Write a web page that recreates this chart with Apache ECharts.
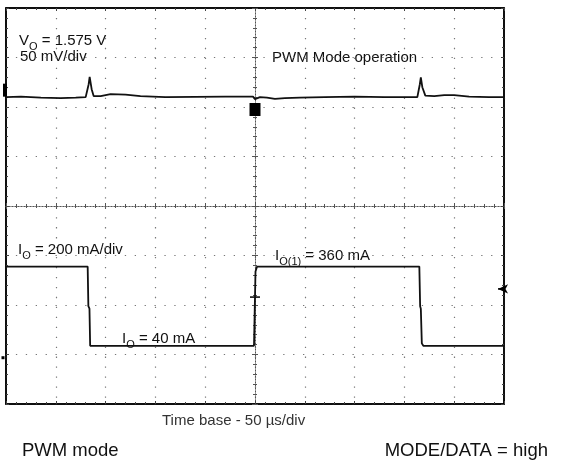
<!DOCTYPE html>
<html>
<head>
<meta charset="utf-8">
<script src="https://cdn.jsdelivr.net/npm/echarts@6/dist/echarts.min.js"></script>
<style>
html,body{margin:0;padding:0;background:#fff;}
#c{width:568px;height:467px;}
</style>
</head>
<body>
<div id="c"></div>
<script>
// Time relative to the trigger (µs), 50 µs/div, 10 divisions
var timeMin = -250, timeMax = 250, timeStep = 50;
// Voltage trace V_O (mV), 50 mV/div
var vTime = [-250,-235,-215,-195,-180,-170,-168,-167,-166,-164,-162,-155,-145,-130,-115,-90,-60,-30,-10,-2,0,5,12,20,30,45,70,100,130,150,163,165.5,166.5,168,171,180,190,200,215,235,250];
var vMilliVolt = [1575,1575.5,1574.5,1574,1574.5,1575,1575,1588,1595.5,1583,1576,1576,1578,1577.5,1576,1575,1575.2,1575.5,1575.5,1575.5,1573,1575,1574.5,1573.3,1574,1574.5,1575,1575.5,1575,1575,1575,1588,1595,1585,1576.5,1576,1577,1577,1575.5,1575,1575];
// Load current I_O (mA), 200 mA/div
var iTime = [-250,-168,-167.3,-166.2,-165.5,-120,-60,-1,0,0.5,2,60,120,165,165.8,166.5,167.5,169,210,250];
var iMilliAmp = [360,360,200,190,40,40,40,40,40,340,360,360,360,360,200,190,50,40,40,40];
// Axis ranges for each channel (8 vertical divisions)
var vAxisMin = 1265, vAxisMax = 1665;
var iAxisMin = -195, iAxisMax = 1405;
var divMin = -4, divMax = 4;
// Scope markers
var ch1Marker = [-250, 1582];
var trigPosMarker = [0, 1562.5];
var trigLevel = 270;
var trigEdgeMark = [0, 237];
var ch2Ground = [-250, 40 - 48];

var FONT = 'Liberation Sans, Arial, Helvetica, sans-serif';
var chart = echarts.init(document.getElementById('c'), null, {renderer:'canvas'});

function edgeAxis(pos, extra){
  var a = {
    type:'value', min: timeMin, max: timeMax, interval: timeStep, position: pos,
    axisLine:{show:true, onZero:false, lineStyle:{color:'#000', width:1.5}},
    axisTick:{show:true, inside:true, length:3, lineStyle:{color:'#444', width:1}},
    minorTick:{show:true, splitNumber:5, length:2, lineStyle:{color:'#444', width:1}},
    axisLabel:{show:false}, splitLine:{show:false}
  };
  return Object.assign(a, extra || {});
}
function edgeYAxis(pos, extra){
  var a = {
    type:'value', min: divMin, max: divMax, interval: 1, position: pos,
    axisLine:{show:true, onZero:false, lineStyle:{color:'#000', width:1.5}},
    axisTick:{show:true, inside:true, length:3, lineStyle:{color:'#444', width:1}},
    minorTick:{show:true, splitNumber:5, length:2, lineStyle:{color:'#444', width:1}},
    axisLabel:{show:false}, splitLine:{show:false}
  };
  return Object.assign(a, extra || {});
}
function centerX(pos){
  return {
    type:'value', min: timeMin, max: timeMax, interval: timeStep, position: pos,
    axisLine:{show:true, onZero:true, onZeroAxisIndex:0, lineStyle:{color:'#555', width:1, type:[1,2]}},
    axisTick:{show:true, inside:true, length:3, lineStyle:{color:'#555', width:1}},
    minorTick:{show:true, splitNumber:5, length:2, lineStyle:{color:'#555', width:1}},
    axisLabel:{show:false}, splitLine:{show:false}
  };
}
function centerY(pos){
  return {
    type:'value', min: divMin, max: divMax, interval: 1, position: pos,
    axisLine:{show:true, onZero:true, onZeroAxisIndex:0, lineStyle:{color:'#555', width:1, type:[1,2]}},
    axisTick:{show:true, inside:true, length:3, lineStyle:{color:'#555', width:1}},
    minorTick:{show:true, splitNumber:5, length:2, lineStyle:{color:'#555', width:1}},
    axisLabel:{show:false}, splitLine:{show:false}
  };
}

function txt(x, y, text, size, rich, color, align){
  return {
    type:'text', x:x, y:y, silent:true,
    style:{
      text:text, fill: color || '#111', font: size + 'px ' + FONT,
      align: align || 'left', verticalAlign:'middle', rich: rich
    }
  };
}
var richSub = {
  m:{fontSize:15, fontFamily:FONT, color:'#111', lineHeight:20, verticalAlign:'bottom'},
  s:{fontSize:11, fontFamily:FONT, color:'#111', lineHeight:20, verticalAlign:'bottom', padding:[0,0,-4,0]}
};

var option = {
  animation:false,
  backgroundColor:'#fff',
  grid:{left:6, top:8, width:498, height:396, show:true, borderColor:'#000', borderWidth:1.5, backgroundColor:'transparent'},
  xAxis:[
    edgeAxis('bottom', {splitLine:{show:true, lineStyle:{color:'#777', width:1.2, type:[1.3,8.66]}}}),
    edgeAxis('top'),
    centerX('bottom'),
    centerX('top')
  ],
  yAxis:[
    edgeYAxis('left', {splitLine:{show:true, lineStyle:{color:'#777', width:1.2, type:[1.3,8.6]}}}),
    edgeYAxis('right'),
    centerY('left'),
    centerY('right'),
    {type:'value', min:vAxisMin, max:vAxisMax, show:false, splitLine:{show:false}, axisLine:{onZero:false}},
    {type:'value', min:iAxisMin, max:iAxisMax, show:false, splitLine:{show:false}, axisLine:{onZero:false}}
  ],
  series:[
    {
      name:'V_O', type:'line', xAxisIndex:0, yAxisIndex:4, showSymbol:false, symbol:'none',
      data: vTime.map(function(t,i){return [t, vMilliVolt[i]];}),
      lineStyle:{color:'#111', width:1.8},
      z:5,
      markPoint:{
        symbol:'rect', silent:true, label:{show:false},
        itemStyle:{color:'#000'},
        data:[
          {coord: ch1Marker, symbolSize:[4,13], symbolOffset:[-1,0]},
          {coord: trigPosMarker, symbolSize:[11,13]}
        ]
      }
    },
    {
      name:'I_O', type:'line', xAxisIndex:0, yAxisIndex:5, showSymbol:false, symbol:'none',
      data: iTime.map(function(t,i){return [t, iMilliAmp[i]];}),
      lineStyle:{color:'#111', width:1.8},
      z:5,
      markPoint:{
        silent:true, label:{show:false}, itemStyle:{color:'#000'},
        data:[
          {coord:[timeMax, trigLevel], symbol:'arrow', symbolSize:[7,10], symbolRotate:90, symbolOffset:[-6,0]},
          {coord:[timeMax, trigLevel], symbol:'rect', symbolSize:[6,1.5], symbolOffset:[-3,0]},
          {coord: trigEdgeMark, symbol:'rect', symbolSize:[10,1.5]},
          {coord: ch2Ground, symbol:'rect', symbolSize:[3,3], symbolOffset:[-3,0]}
        ]
      }
    }
  ],
  graphic:[
    txt(19, 38, '{m|V}{s|O}{m| = 1.575 V}', 15, richSub),
    txt(20, 57, '50 mV/div', 15),
    txt(272, 58, 'PWM Mode operation', 15),
    txt(18, 247, '{m|I}{s|O}{m| = 200 mA/div}', 15, richSub),
    txt(275, 253, '{m|I}{s|O(1)}{m| = 360 mA}', 15, richSub),
    txt(122, 336, '{m|I}{s|O}{m| = 40 mA}', 15, richSub),
    txt(162, 421, 'Time base - 50 µs/div', 15, null, '#333'),
    txt(22, 451, 'PWM mode', 18.5, null, '#111'),
    txt(548, 451, 'MODE/DATA = high', 18.5, null, '#111', 'right')
  ]
};
chart.setOption(option);
</script>
</body>
</html>
